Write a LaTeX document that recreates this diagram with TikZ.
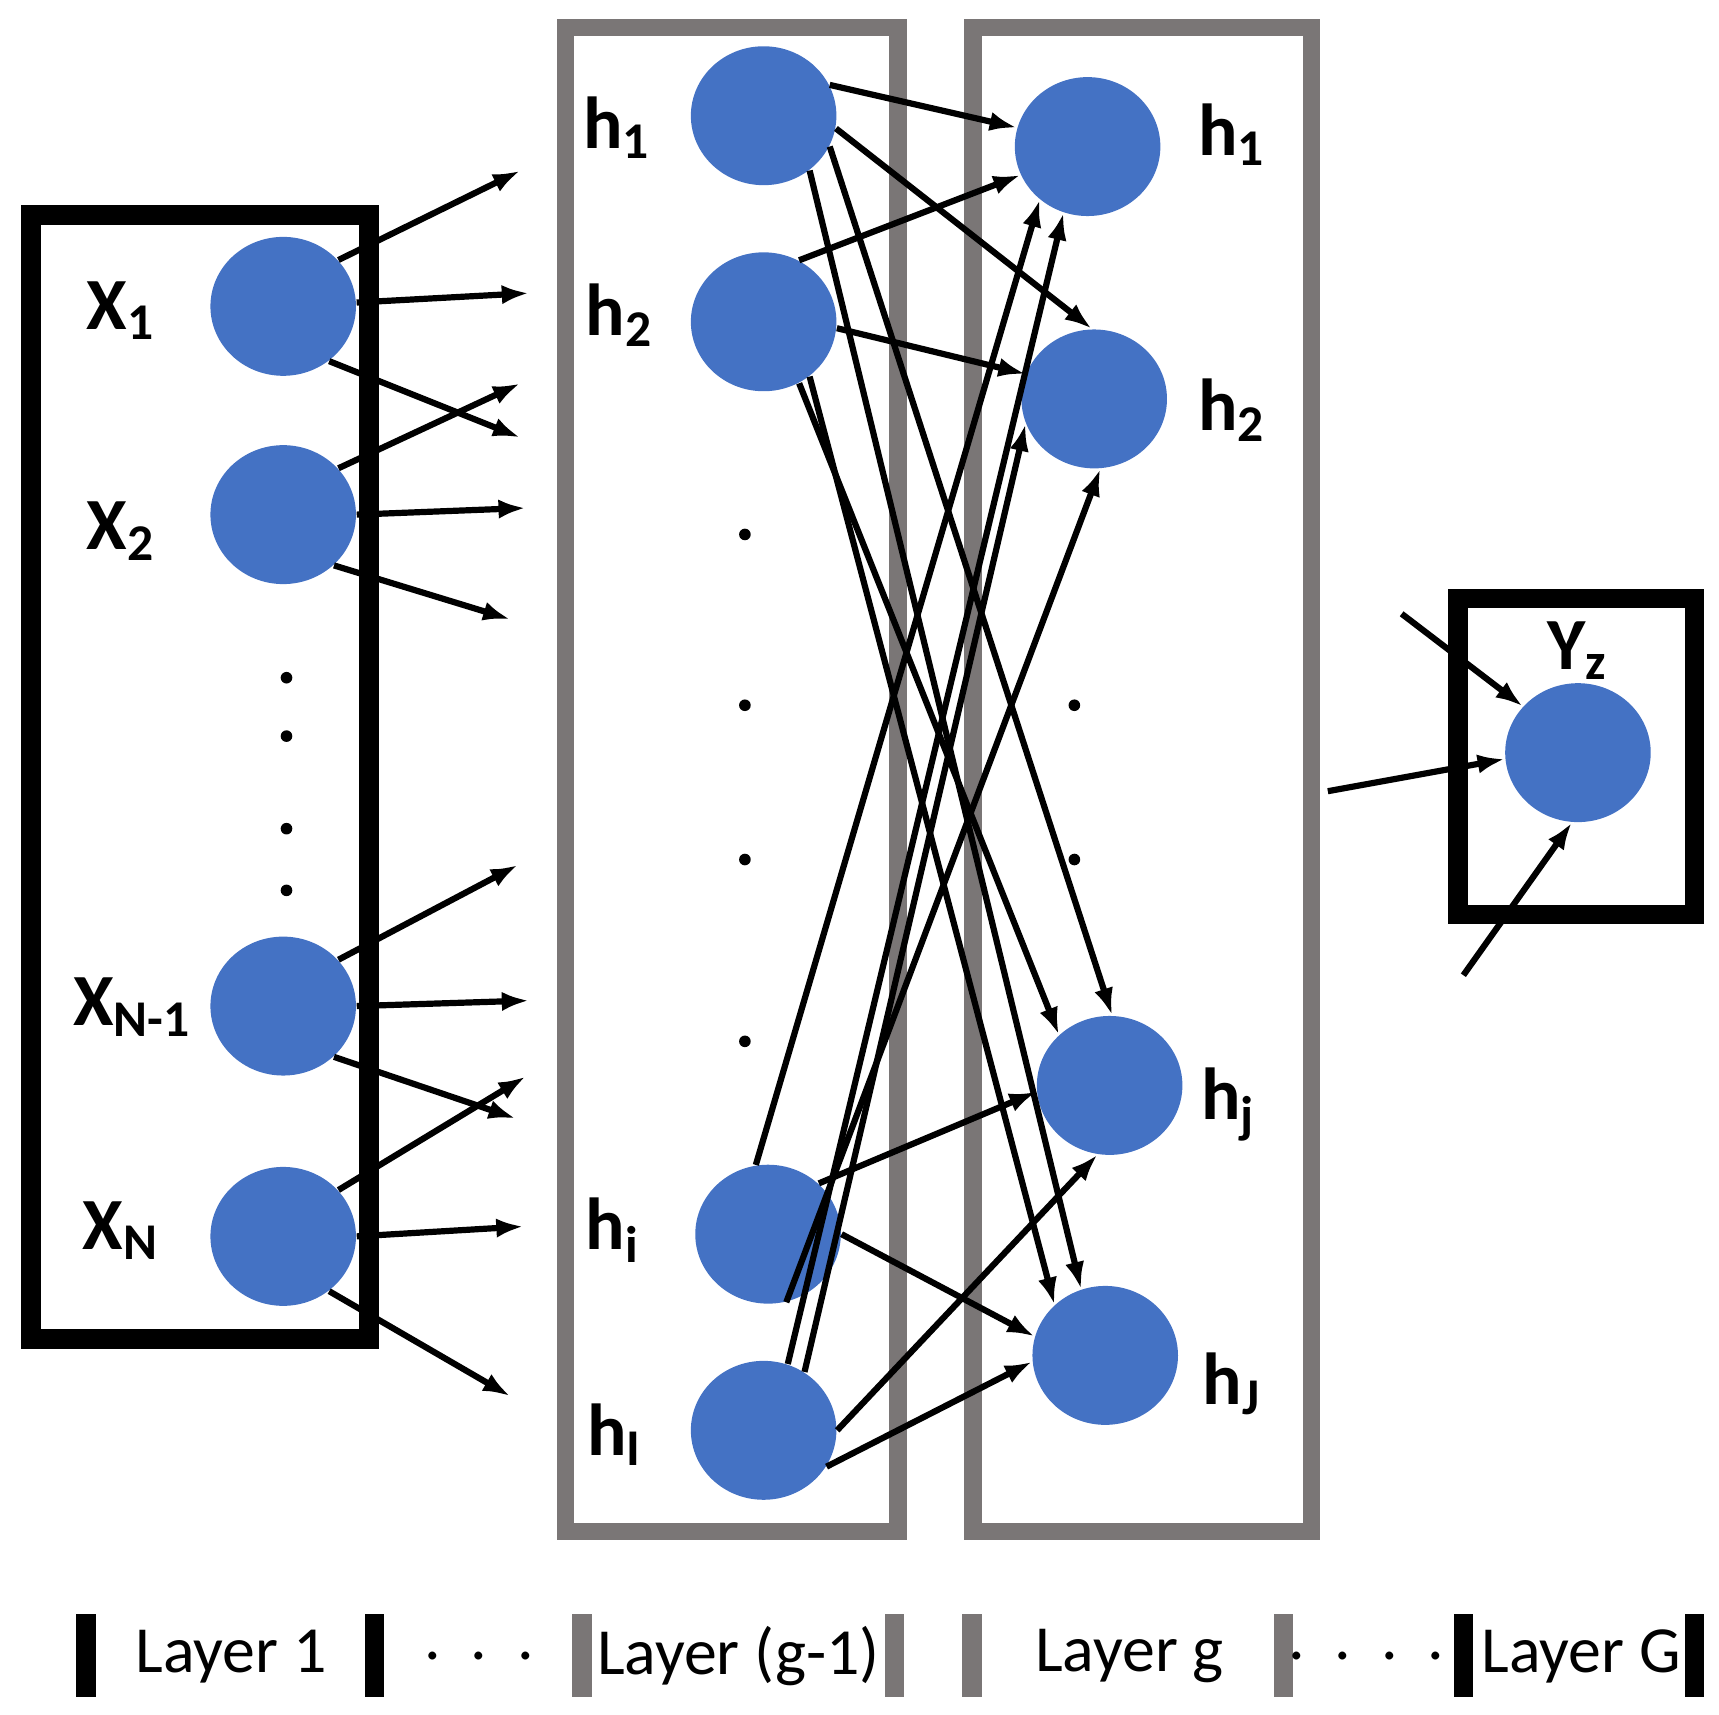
\documentclass[tikz,border=0pt]{standalone}
\usepackage{fontspec}
\setmainfont{Carlito}
\usetikzlibrary{shapes.geometric,arrows.meta}
\definecolor{nodeblue}{HTML}{4472C4}
\definecolor{boxgray}{HTML}{7A7676}
\begin{document}
\begin{tikzpicture}[x=0.01cm,y=-0.01cm,
  neuron/.style={ellipse, fill=nodeblue, draw=none, minimum width=1.32cm, minimum height=1.26cm, inner sep=0},
  lbl/.style={font=\fontsize{19}{19}\selectfont\bfseries},
  arr/.style={-{Latex[length=7pt,width=5pt]}, line width=1.6pt},
  dot/.style={fill=black, draw=none, minimum size=3pt, inner sep=0, circle},
  bar/.style={line width=5pt},
  layer/.style={font=\fontsize{17}{17}\selectfont}]
\useasboundingbox (0,0) rectangle (1560,1556);
% boxes
\draw[line width=5pt] (28,195) rectangle (335,1215);
\draw[boxgray, line width=4.5pt] (513,25) rectangle (815,1390);
\draw[boxgray, line width=4.5pt] (883,25) rectangle (1190,1390);
\draw[line width=5pt] (1323,543) rectangle (1538,830);
% input layer
\node[neuron] (x1) at (257,278) {};
\node[neuron] (x2) at (257,467) {};
\node[neuron] (xn1) at (257,913) {};
\node[neuron] (xn) at (257,1122) {};
\node[lbl] (lx1) at (110,282) {X\textsubscript{1}};
\node[lbl] (lx2) at (110,482) {X\textsubscript{2}};
\node[lbl] (lxn1) at (120,914) {X\textsubscript{N-1}};
\node[lbl] (lxn) at (110,1117) {X\textsubscript{N}};
\foreach \y/\n in {615/a,668/b,752/c,808/d} \node[dot] (ld\n) at (260,\y) {};
% free ends of the input arrows
\foreach \n/\x/\y in {a1/472/155,a2/480/266,a3/472/397,b1/472/348,b2/477/461,b3/463/562,
  c1/470/785,c2/480/908,c3/468/1015,d1/477/977,d2/475/1113,d3/463/1267}
  \coordinate (\n) at (\x,\y);
\draw[arr] (x1.40) -- (a1); \draw[arr] (x1.3) -- (a2); \draw[arr] (x1.-50) -- (a3);
\draw[arr] (x2.40) -- (b1); \draw[arr] (x2.0) -- (b2); \draw[arr] (x2.-45) -- (b3);
\draw[arr] (xn1.40) -- (c1); \draw[arr] (xn1.0) -- (c2); \draw[arr] (xn1.-45) -- (c3);
\draw[arr] (xn.40) -- (d1); \draw[arr] (xn.0) -- (d2); \draw[arr] (xn.-50) -- (d3);
% layer g-1
\node[neuron] (p1) at (693,105) {};
\node[neuron] (p2) at (693,292) {};
\node[neuron] (pi) at (697,1120) {};
\node[neuron] (pI) at (693,1298) {};
\node[lbl] (lp1) at (560,116) {h\textsubscript{1}};
\node[lbl] (lp2) at (562,286) {h\textsubscript{2}};
\node[lbl] (lpi) at (556,1116) {h\textsubscript{i}};
\node[lbl] (lpI) at (558,1302) {h\textsubscript{I}};
\foreach \y/\n in {485/a,640/b,780/c,945/d} \node[dot] (md\n) at (676,\y) {};
% layer g
\node[neuron] (q1) at (987,133) {};
\node[neuron] (q2) at (993,362) {};
\node[neuron] (qj) at (1007,985) {};
\node[neuron] (qJ) at (1003,1230) {};
\node[lbl] (lq1) at (1118,122) {h\textsubscript{1}};
\node[lbl] (lq2) at (1118,372) {h\textsubscript{2}};
\node[lbl] (lqj) at (1115,1002) {h\textsubscript{j}};
\node[lbl] (lqJ) at (1118,1256) {h\textsubscript{J}};
\foreach \y/\n in {640/a,780/b} \node[dot] (rd\n) at (975,\y) {};
% connections g-1 -> g
\draw[arr] (p1.25) -- (q1.165);
\draw[arr] (p1.-10) -- (q2.92);
\draw[arr] (p1.-25) -- (qj.88);
\draw[arr] (p1.-50) -- (qJ.110);
\draw[arr] (p2.60) -- (q1.203);
\draw[arr] (p2.-5) -- (q2.160);
\draw[arr] (p2.-60) -- (qj.135);
\draw[arr] (p2.-50) -- (qJ.135);
\draw[arr] (pi.100) -- (q1.228);
\draw[arr] (pi.-75) -- (q2.275);
\draw[arr] (pi.45) -- (qj.185);
\draw[arr] (pi.0) -- (qJ.165);
\draw[arr] (pI.70) -- (q1.250);
\draw[arr] (pI.55) -- (q2.200);
\draw[arr] (pI.0) -- (qj.260);
\draw[arr] (pI.-30) -- (qJ.185);
% output
\node[neuron] (y) at (1432,683) {};
\node[lbl] (ly) at (1432,590) {Y\textsubscript{z}};
\coordinate (ya) at (1272,557);
\coordinate (yb) at (1205,718);
\coordinate (yc) at (1328,885);
\draw[arr] (ya) -- (y.140);
\draw[arr] (yb) -- (y.185);
\draw[arr] (yc) -- (y.-95);
% layer legend
\foreach \x in {78,340,1328,1538} \draw[bar] (\x,1465) -- (\x,1540);
\foreach \x in {528,812,882,1165} \draw[bar, boxgray] (\x,1465) -- (\x,1540);
\node[layer] (t1) at (210,1503) {Layer 1};
\node[layer] (t2) at (435,1503) {.\ \ .\ \ .};
\node[layer] (t3) at (670,1503) {Layer (g-1)};
\node[layer] (t4) at (1025,1503) {Layer g};
\node[layer] (t5) at (1240,1503) {.\ \ .\ \ .\ \ .};
\node[layer] (t6) at (1435,1503) {Layer G};
\end{tikzpicture}
\end{document}
